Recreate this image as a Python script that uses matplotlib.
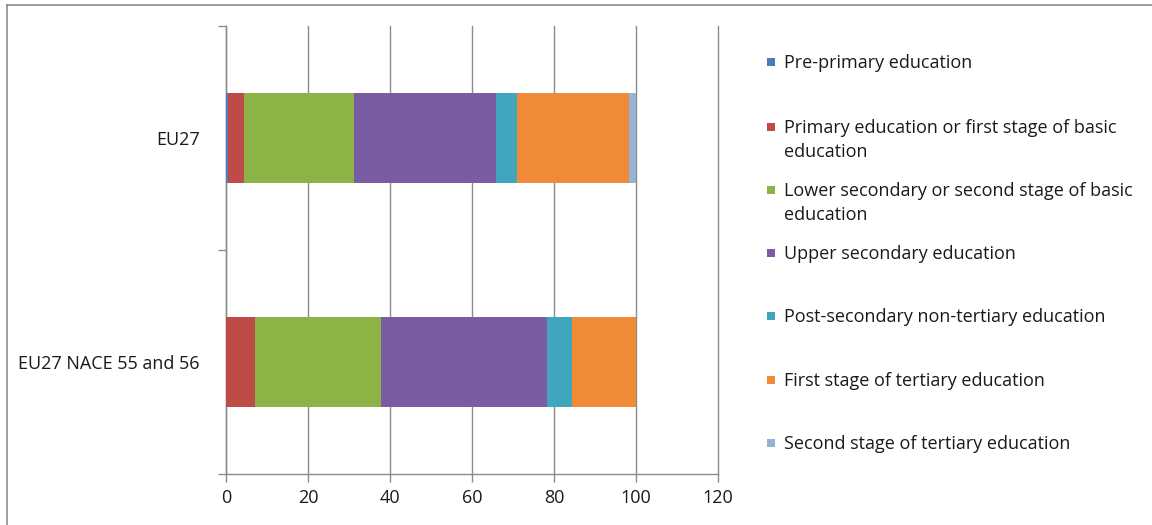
import matplotlib
matplotlib.use("Agg")
import matplotlib.pyplot as plt
from matplotlib.patches import Rectangle
from matplotlib.lines import Line2D
import numpy as np

plt.rcParams['font.family'] = ['Open Sans', 'DejaVu Sans']

categories = ["EU27 NACE 55 and 56", "EU27"]
series_names = [
    "Pre-primary education",
    "Primary education or first stage of basic\neducation",
    "Lower secondary or second stage of basic\neducation",
    "Upper secondary education",
    "Post-secondary non-tertiary education",
    "First stage of tertiary education",
    "Second stage of tertiary education",
]
# shares (%) for [EU27 NACE 55 and 56, EU27]
pre_primary = [0.1, 0.5]
primary = [7.0, 4.0]
lower_secondary = [30.8, 26.8]
upper_secondary = [40.4, 34.6]
post_secondary = [6.1, 5.0]
first_tertiary = [15.6, 27.5]
second_tertiary = [0.0, 1.6]
series = [pre_primary, primary, lower_secondary, upper_secondary,
          post_secondary, first_tertiary, second_tertiary]
colors = ["#4A7EBB", "#BE4B48", "#8DB246", "#7A5CA2", "#3FA6BE", "#F08A36", "#95B3D7"]
x_ticks = [0, 20, 40, 60, 80, 100, 120]

W, H = 1152, 525
FS = 13.0
TXT = "#1A1A1A"
fig = plt.figure(figsize=(W / 100, H / 100), dpi=100)
ax = fig.add_axes([226 / W, 1 - 474 / H, (718 - 226) / W, (474 - 26) / H])

y = np.arange(len(categories))
left = np.zeros(len(categories))
for vals, col in zip(series, colors):
    ax.barh(y, vals, left=left, height=0.4, color=col, edgecolor='none', zorder=3)
    left += np.array(vals)

grid_col = "#8C8C8C"
ax.set_xlim(0, 120)
ax.set_ylim(-0.5, 1.5)
ax.set_xticks(x_ticks)
ax.set_xticklabels([str(t) for t in x_ticks], fontsize=FS, color=TXT)
ax.xaxis.grid(True, color=grid_col, linewidth=1.0, zorder=0)
for gl in ax.get_xgridlines():
    gl.set_clip_on(False)
ax.tick_params(axis='x', direction='out', length=6, width=1, color=grid_col, pad=5)

ax.set_yticks(y)
ax.set_yticklabels(categories, fontsize=FS, color=TXT)
ax.tick_params(axis='y', which='major', length=0, pad=19)
ax.set_yticks([-0.5, 0.5, 1.5], minor=True)
ax.tick_params(axis='y', which='minor', direction='out', length=6, width=1, color=grid_col)

for s in ['top', 'right']:
    ax.spines[s].set_visible(False)
for s in ['left', 'bottom']:
    ax.spines[s].set_color(grid_col)
    ax.spines[s].set_linewidth(1.0)

# legend drawn by hand, one entry per row; wrapped names continue below
legend_rows = [62, 127, 190, 253, 316, 380, 443]
for name, col, ry in zip(series_names, colors, legend_rows):
    fig.add_artist(Rectangle((767 / W, 1 - (ry + 4) / H), 8 / W, 8 / H,
                             transform=fig.transFigure, facecolor=col, edgecolor='none'))
    for k, line in enumerate(name.split("\n")):
        fig.text(784 / W, 1 - (ry + 6 + 24 * k) / H, line, fontsize=FS, color=TXT,
                 va='baseline', ha='left')

# chart frame
fig.add_artist(Line2D([7 / W, 1.0], [1 - 5 / H, 1 - 5 / H], transform=fig.transFigure,
                      color=grid_col, linewidth=1.2))
fig.add_artist(Line2D([7 / W, 7 / W], [1 - 5 / H, 0.0], transform=fig.transFigure,
                      color=grid_col, linewidth=1.2))

fig.savefig("out.png", dpi=100)
